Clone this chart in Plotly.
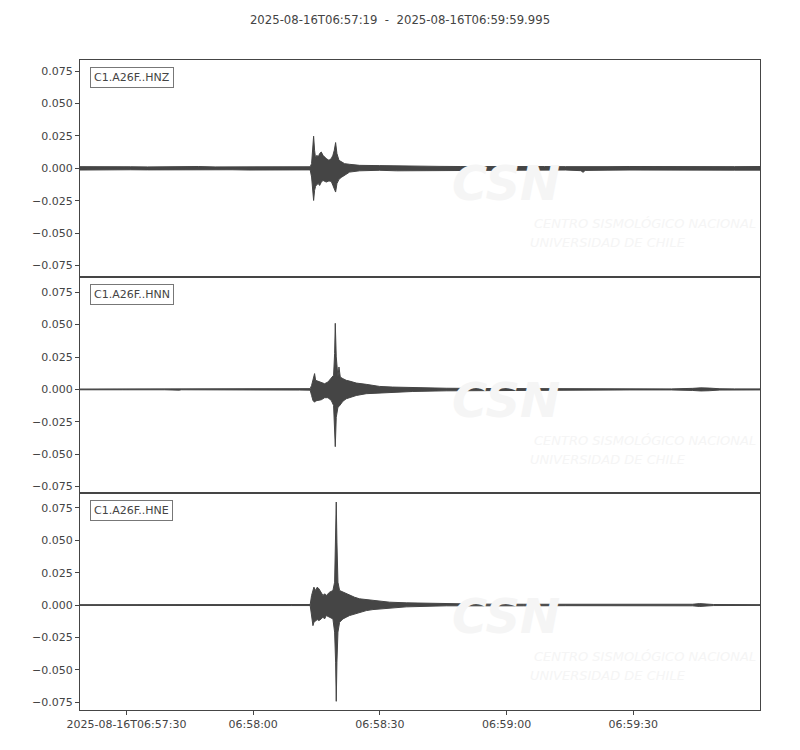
import pandas as pd
import plotly.graph_objects as go
from plotly.subplots import make_subplots

# ---------------- data ----------------
start_time = "2025-08-16T06:57:19"
end_time = "2025-08-16T06:59:59.995"
title_text = "2025-08-16T06:57:19  -  2025-08-16T06:59:59.995"
channels = ["C1.A26F..HNZ", "C1.A26F..HNN", "C1.A26F..HNE"]

# envelope of each trace: seconds after start, upper and lower amplitude
hnz_t = [0, 4, 8, 12, 16, 20, 24, 28, 32, 36, 40, 44, 48, 52, 54.5,
         54.83, 54.99, 55.31, 55.54, 55.78, 56.09, 56.41, 56.73, 57.12, 57.52, 57.91,
         58.31, 58.94, 59.49, 59.88, 60.20, 60.52, 60.83, 61.31, 61.86, 62.65, 63.83,
         66.2, 70.9,
         75, 80, 85, 90, 95, 100, 105, 110, 115, 118.6, 119.1, 119.6, 125, 130, 135,
         140, 145, 150, 155, 161]
hnz_up = [0.0013, 0.0011, 0.0014, 0.0012, 0.0011, 0.0013, 0.0012, 0.0014, 0.0011, 0.0012,
          0.0013, 0.0012, 0.0011, 0.0013, 0.0012,
          0.0036, 0.0139, 0.0248, 0.0139, 0.0075, 0.0101, 0.0087, 0.0114, 0.0126, 0.0101,
          0.0087, 0.0075, 0.0062, 0.0075, 0.0101, 0.0139, 0.0199, 0.0114, 0.0062, 0.0049,
          0.0036, 0.0031, 0.0023, 0.0021,
          0.0018, 0.0016, 0.0015, 0.0014, 0.0015, 0.0014, 0.0013, 0.0014, 0.0013, 0.0015,
          0.0012, 0.0014, 0.0013, 0.0014, 0.0013, 0.0014, 0.0013, 0.0014, 0.0013, 0.0014]
hnz_lo = [-0.0013, -0.0012, -0.0013, -0.0011, -0.0012, -0.0013, -0.0012, -0.0013, -0.0012,
          -0.0011, -0.0013, -0.0012, -0.0012, -0.0013, -0.0012,
          -0.0067, -0.0132, -0.0248, -0.0170, -0.0139, -0.0124, -0.0118, -0.0132, -0.0108,
          -0.0093, -0.0101, -0.0106, -0.0097, -0.0101, -0.0132, -0.0163, -0.0183, -0.0118,
          -0.0085, -0.0070, -0.0050, -0.0029, -0.0019, -0.0015,
          -0.0019, -0.0017, -0.0016, -0.0015, -0.0015, -0.0014, -0.0014, -0.0014, -0.0013,
          -0.0018, -0.0031, -0.0016, -0.0014, -0.0013, -0.0014, -0.0013, -0.0014, -0.0013,
          -0.0014, -0.0014]

hnn_t = [0, 10, 20, 23.5, 24, 30, 34, 36, 40, 45, 48, 52, 54.5,
         54.83, 55.15, 55.54, 55.78, 56.33, 57.12, 57.91, 58.70, 59.49, 60.04, 60.28,
         60.44, 60.67, 61.07, 61.31, 61.62, 62.25, 63.04, 63.83, 65.41, 67.78, 70.94,
         74, 78.8, 86.7, 94.6, 102, 110, 120, 130, 140, 145, 147, 149, 151.5, 155, 161]
hnn_up = [0.0003, 0.0003, 0.0003, 0.0006, 0.0003, 0.0003, 0.0005, 0.0004, 0.0003, 0.0003,
          0.0004, 0.0005, 0.0006,
          0.0031, 0.0083, 0.0122, 0.0070, 0.0064, 0.0057, 0.0044, 0.0057, 0.0083, 0.0109,
          0.0277, 0.0510, 0.0251, 0.0095, 0.0173, 0.0095, 0.0083, 0.0070, 0.0064, 0.0049,
          0.0039, 0.0023,
          0.0018, 0.0013, 0.0009, 0.0007, 0.0006, 0.0005, 0.0005, 0.0004, 0.0004, 0.0008,
          0.0012, 0.0010, 0.0005, 0.0004, 0.0004]
hnn_lo = [-0.0003, -0.0003, -0.0003, -0.0006, -0.0003, -0.0003, -0.0005, -0.0004, -0.0003,
          -0.0003, -0.0004, -0.0005, -0.0006,
          -0.0047, -0.0085, -0.0099, -0.0089, -0.0085, -0.0080, -0.0064, -0.0064, -0.0085,
          -0.0124, -0.0241, -0.0442, -0.0215, -0.0137, -0.0132, -0.0124, -0.0091, -0.0072,
          -0.0064, -0.0047, -0.0033, -0.0026,
          -0.0021, -0.0016, -0.0011, -0.0008, -0.0006, -0.0005, -0.0005, -0.0004, -0.0004,
          -0.0008, -0.0012, -0.0010, -0.0005, -0.0004, -0.0004]

hne_t = [0, 10, 20, 30, 40, 50, 54.5,
         54.83, 55.15, 55.38, 55.78, 56.17, 56.57, 57.12, 57.52, 57.91, 58.31, 59.10,
         59.88, 60.28, 60.52, 60.67, 60.83, 61.07, 61.46, 62.25, 63.04, 63.83, 65.02,
         66.20, 67.78, 69.36, 73.31, 77.25, 86.73,
         95, 105, 115, 125, 135, 145, 146.7, 148, 150, 161]
hne_up = [0.0003, 0.0003, 0.0004, 0.0003, 0.0003, 0.0004, 0.0004,
          0.0074, 0.0125, 0.0138, 0.0112, 0.0138, 0.0125, 0.0099, 0.0074, 0.0087, 0.0074,
          0.0099, 0.0112, 0.0176, 0.0486, 0.0795, 0.0486, 0.0176, 0.0112, 0.0099, 0.0087,
          0.0074, 0.0060, 0.0048, 0.0043, 0.0035, 0.0022, 0.0017, 0.0009,
          0.0007, 0.0006, 0.0005, 0.0004, 0.0004, 0.0006, 0.0011, 0.0008, 0.0004, 0.0003]
hne_lo = [-0.0003, -0.0003, -0.0004, -0.0003, -0.0003, -0.0004, -0.0004,
          -0.0081, -0.0159, -0.0133, -0.0120, -0.0112, -0.0120, -0.0107, -0.0094, -0.0107,
          -0.0081, -0.0094, -0.0107, -0.0209, -0.0441, -0.0743, -0.0441, -0.0209, -0.0133,
          -0.0107, -0.0094, -0.0081, -0.0068, -0.0056, -0.0043, -0.0035, -0.0022, -0.0014,
          -0.0006,
          -0.0007, -0.0006, -0.0005, -0.0004, -0.0004, -0.0006, -0.0011, -0.0008, -0.0004,
          -0.0003]

y_ticks = [-0.075, -0.050, -0.025, 0.0, 0.025, 0.050, 0.075]
y_half_span = 0.0836   # each panel spans +-this around the middle of its trace's extremes
x_tick_times = ["2025-08-16T06:57:30", "2025-08-16T06:58:00", "2025-08-16T06:58:30",
                "2025-08-16T06:59:00", "2025-08-16T06:59:30"]
x_tick_labels = ["2025-08-16T06:57:30", "06:58:00", "06:58:30", "06:59:00", "06:59:30"]

# ---------------- figure ----------------
INK = "#454545"
TXT = "#444444"
FONT = "DejaVu Sans"
WM = "#f5f5f5"

base = pd.Timestamp(start_time)
traces = [(hnz_t, hnz_up, hnz_lo), (hnn_t, hnn_up, hnn_lo), (hne_t, hne_up, hne_lo)]

fig = make_subplots(rows=3, cols=1, shared_xaxes=True, vertical_spacing=0)

for i, (t, up, lo) in enumerate(traces, start=1):
    secs = list(t) + list(t)[::-1]
    vals = list(up) + list(lo)[::-1]
    xs = base + pd.to_timedelta(secs, unit="s")
    fig.add_trace(go.Scatter(x=xs, y=vals, mode="lines", fill="toself",
                             fillcolor=INK, line=dict(color=INK, width=1),
                             hoverinfo="skip", showlegend=False), row=i, col=1)

for i, ch in enumerate(channels, start=1):
    ax = "" if i == 1 else str(i)
    # watermark
    fig.add_annotation(text="<b><i>CSN</i></b>", xref=f"x{ax} domain", yref=f"y{ax} domain",
                       x=0.627, y=0.432, xanchor="center", yanchor="middle", showarrow=False,
                       font=dict(family=FONT, size=48, color=WM))
    fig.add_annotation(text="<i>CENTRO SISMOLÓGICO NACIONAL</i>", xref=f"x{ax} domain",
                       yref=f"y{ax} domain", x=0.664, y=0.246, xanchor="left",
                       yanchor="middle", showarrow=False,
                       font=dict(family=FONT, size=13, color=WM))
    fig.add_annotation(text="<i>UNIVERSIDAD DE CHILE</i>", xref=f"x{ax} domain",
                       yref=f"y{ax} domain", x=0.659, y=0.158, xanchor="left",
                       yanchor="middle", showarrow=False,
                       font=dict(family=FONT, size=13, color=WM))
    # channel label
    fig.add_annotation(text=ch, xref=f"x{ax} domain", yref=f"y{ax} domain",
                       x=0, y=1, xanchor="left", yanchor="top", xshift=10, yshift=-7,
                       showarrow=False, bgcolor="white", bordercolor="#777777",
                       borderwidth=1, borderpad=3,
                       font=dict(family=FONT, size=11, color=TXT))

axis_common = dict(showline=True, linecolor=INK, linewidth=1, mirror=True,
                   showgrid=False, zeroline=False)

for i, (t, up, lo) in enumerate(traces, start=1):
    mid = (max(up) + min(lo)) / 2
    fig.update_yaxes(range=[mid - y_half_span, mid + y_half_span], tickvals=y_ticks,
                     tickformat=".3f", ticks="outside", ticklen=4, tickcolor=INK,
                     tickfont=dict(family=FONT, size=11, color=TXT),
                     **axis_common, row=i, col=1)
    fig.update_xaxes(type="date", range=[start_time, end_time], **axis_common, row=i, col=1)

fig.update_xaxes(showticklabels=False, ticks="", row=1, col=1)
fig.update_xaxes(showticklabels=False, ticks="", row=2, col=1)
fig.update_xaxes(tickvals=x_tick_times, ticktext=x_tick_labels, ticks="outside",
                 ticklen=4, tickcolor=INK, tickfont=dict(family=FONT, size=11, color=TXT),
                 row=3, col=1)

# the page places the figure 8 px from the window's top-left corner
fig.update_layout(
    width=800, height=750,
    margin=dict(l=72, r=48, t=52, b=48),
    paper_bgcolor="white", plot_bgcolor="white",
    title=dict(text=title_text, x=(400 - 8) / 800, xanchor="center", y=1 - 12 / 750,
               yanchor="middle", yref="container", xref="container",
               font=dict(family=FONT, size=11.7, color=TXT)),
    font=dict(family=FONT, color=TXT),
)

fig.write_html("out.html")
